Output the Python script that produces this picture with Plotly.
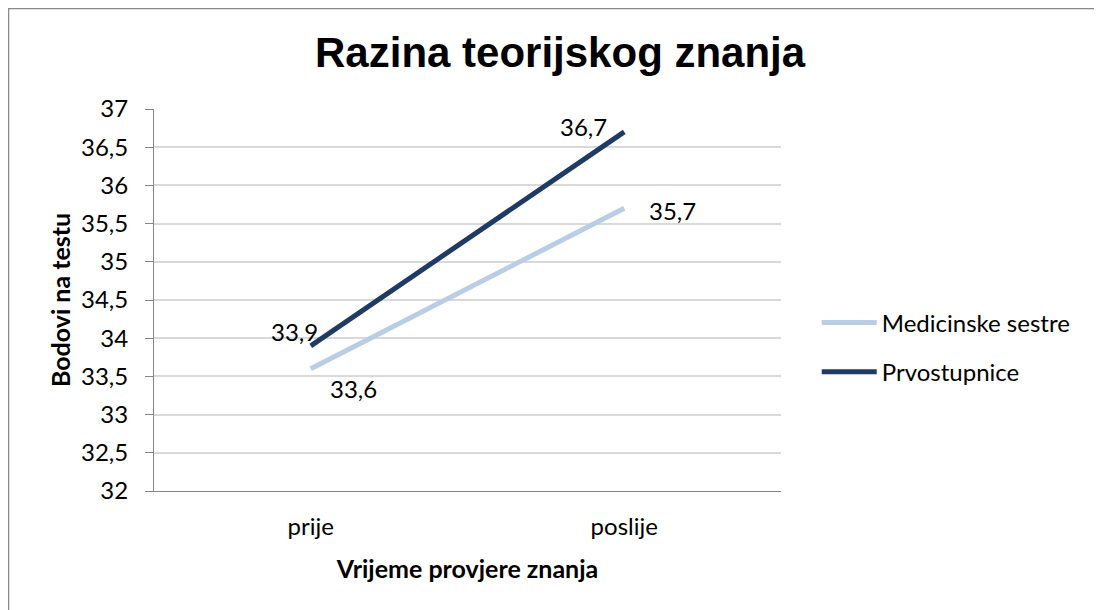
import plotly.graph_objects as go

# data
categories = ["prije", "poslije"]
medicinske_sestre = [33.6, 35.7]
prvostupnice = [33.9, 36.7]
series_names = ["Medicinske sestre", "Prvostupnice"]

FONT = "Lato, Calibri, sans-serif"
LIGHT = "#B9CDE5"
DARK = "#1F3B63"

# plot area in figure pixels (page adds 8px body margin)
L, T, W, H = 146, 101, 627, 382

fig = go.Figure()
fig.add_trace(go.Scatter(
    x=categories, y=medicinske_sestre, name=series_names[0],
    mode="lines", legendgroup="a", line=dict(color=LIGHT, width=5),
))
fig.add_trace(go.Scatter(
    x=categories, y=prvostupnice, name=series_names[1],
    mode="lines", legendgroup="b", line=dict(color=DARK, width=5),
))

# data labels (Excel-like placement)
label_pos = {
    series_names[0]: [dict(xanchor="left", xshift=17, yshift=-20),
                      dict(xanchor="left", xshift=23, yshift=-2)],
    series_names[1]: [dict(xanchor="right", xshift=9, yshift=14),
                      dict(xanchor="right", xshift=-15, yshift=5)],
}
for name, vals in zip(series_names, [medicinske_sestre, prvostupnice]):
    for cat, v, pos in zip(categories, vals, label_pos[name]):
        fig.add_annotation(
            x=cat, y=v, text=f"{v:.1f}".replace(".", ","), showarrow=False,
            yanchor="middle", font=dict(family=FONT, size=24, color="#000000"), **pos,
        )

fig.update_layout(
    width=1102, height=610,
    margin=dict(l=L, r=1102 - L - W, t=T, b=610 - T - H),
    paper_bgcolor="white", plot_bgcolor="white",
    separators=", ",
    font=dict(family=FONT, size=24, color="#000000"),
    title=dict(
        text="<b>Razina teorijskog znanja</b>",
        font=dict(family="Liberation Sans, Arial, sans-serif", size=42, color="#000000"),
        x=0.501, xanchor="center", y=0.928, yanchor="middle",
    ),
    legend=dict(
        x=1.057, xanchor="left", y=0.376, yanchor="middle",
        font=dict(family=FONT, size=24), tracegroupgap=15, itemwidth=55,
    ),
    xaxis=dict(
        type="category", range=[-0.5, 1.5],
        showgrid=False, showline=True, linecolor="#868686", linewidth=1,
        ticks="", tickfont=dict(family=FONT, size=24), ticklabelstandoff=14,
        title=dict(text="<b>Vrijeme provjere znanja</b>", font=dict(family=FONT, size=25), standoff=21),
    ),
    yaxis=dict(
        range=[32, 37], dtick=0.5, tickformat=".1~f",
        showgrid=True, gridcolor="#D9D9D9", gridwidth=1.5,
        showline=True, linecolor="#868686", linewidth=1,
        ticks="outside", ticklen=8, tickcolor="#868686",
        tickfont=dict(family=FONT, size=24), ticklabelstandoff=12,
        title=dict(text="<b>Bodovi na testu</b>", font=dict(family=FONT, size=25), standoff=3),
        zeroline=False,
    ),
    shapes=[dict(
        type="rect", xref="paper", yref="paper",
        x0=(0.5 - L) / W, x1=(1130 - L) / W,
        y0=(T + H - 640) / H, y1=(T + H - 0.5) / H,
        line=dict(color="#898989", width=1.5), fillcolor="rgba(0,0,0,0)", layer="below",
    )],
)

fig.write_html("out.html")
